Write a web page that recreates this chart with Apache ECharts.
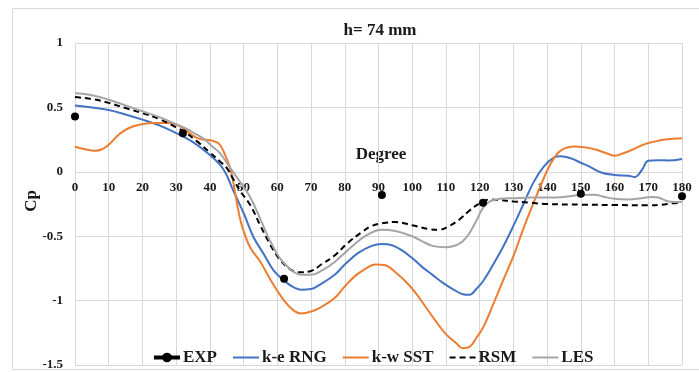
<!DOCTYPE html>
<html>
<head>
<meta charset="utf-8">
<script src="https://cdn.jsdelivr.net/npm/echarts@6/dist/echarts.min.js"></script>
<style>
html,body{margin:0;padding:0;background:#fff;}
#c{width:699px;height:372px;}
</style>
</head>
<body>
<div id="c"></div>
<script>
// ---- data ----
const expDeg = [0, 32, 62, 91, 121, 150, 180];
const expCp  = [0.43, 0.30, -0.83, -0.18, -0.24, -0.17, -0.19];

const rngDeg = [0,5,10,15,20,25,30,35,40,44,47,50,53,56,59,62,65,67,70,73,77,80,84,88,91,94,97,100,103,106,109,112,115,117,119,121,124,127,130,133,136,139,142,144,147,150,153,156,160,164,166,168,170,173,176,180];
const rngCp  = [0.515,0.50,0.48,0.445,0.405,0.36,0.30,0.23,0.13,0.02,-0.15,-0.32,-0.51,-0.64,-0.77,-0.845,-0.90,-0.915,-0.91,-0.87,-0.80,-0.72,-0.63,-0.575,-0.56,-0.57,-0.61,-0.67,-0.74,-0.80,-0.86,-0.91,-0.95,-0.955,-0.91,-0.85,-0.72,-0.58,-0.42,-0.25,-0.08,0.04,0.11,0.12,0.105,0.07,0.035,-0.005,-0.025,-0.03,-0.04,0.01,0.085,0.09,0.088,0.10];

const sstDeg = [0,3,6,8,10,13,16,19,23,28,31,34,36,38,41,43,45,46,47,48,49.5,52,55,58,62,65,67,70,73,77,80,83,86,89,92,95,98,101,104,107,110,113,115,117,119,121,124,127,130,133,136,139,141,143,145,148,151,154,157,160,163,166,169,172,175,180];
const sstCp  = [0.195,0.175,0.163,0.175,0.21,0.29,0.34,0.365,0.378,0.378,0.355,0.30,0.265,0.25,0.24,0.21,0.10,0.03,-0.09,-0.24,-0.42,-0.59,-0.70,-0.84,-1.00,-1.08,-1.10,-1.085,-1.05,-0.98,-0.89,-0.81,-0.755,-0.72,-0.725,-0.78,-0.85,-0.94,-1.05,-1.16,-1.26,-1.33,-1.37,-1.36,-1.29,-1.21,-1.03,-0.84,-0.655,-0.44,-0.24,-0.05,0.06,0.14,0.18,0.197,0.19,0.175,0.15,0.125,0.148,0.18,0.215,0.235,0.25,0.26];

const rsmDeg = [0,5,10,15,20,25,30,33,36,40,43,45,47,49,52,55,58,61,64,66,70,73,77,81,85,88,91,95,100,105,108,111,114,117,120,123,126,130,135,140,150,160,170,174,177,180];
const rsmCp  = [0.58,0.565,0.535,0.495,0.455,0.41,0.345,0.30,0.24,0.15,0.08,0.03,-0.06,-0.15,-0.26,-0.42,-0.57,-0.69,-0.76,-0.78,-0.77,-0.72,-0.65,-0.55,-0.47,-0.42,-0.40,-0.39,-0.415,-0.445,-0.45,-0.42,-0.37,-0.30,-0.245,-0.215,-0.22,-0.23,-0.24,-0.25,-0.255,-0.258,-0.26,-0.255,-0.245,-0.24];

const lesDeg = [0,5,10,15,20,25,30,33,36,38,41,43,46,49,52,55,57,60,62,65,67,70,73,77,80,83,86,89,91,95,100,103,106,110,113,115,117,119,121,123,126,130,135,140,145,150,154,157,160,164,168,171,173,176,180];
const lesCp  = [0.61,0.595,0.56,0.515,0.47,0.425,0.37,0.335,0.29,0.26,0.19,0.145,0.03,-0.08,-0.20,-0.37,-0.49,-0.64,-0.71,-0.78,-0.80,-0.80,-0.77,-0.70,-0.63,-0.56,-0.50,-0.46,-0.45,-0.46,-0.50,-0.54,-0.575,-0.585,-0.57,-0.54,-0.475,-0.38,-0.28,-0.23,-0.21,-0.205,-0.20,-0.20,-0.195,-0.18,-0.178,-0.195,-0.21,-0.215,-0.205,-0.195,-0.20,-0.23,-0.235];

const yTicks = [-1.5, -1, -0.5, 0, 0.5, 1];
const xTicks = [0,10,20,30,40,50,60,70,80,90,100,110,120,130,140,150,160,170,180];

const zip = (a, b) => a.map((v, i) => [v, b[i]]);

const FONT = '"Liberation Serif", "Times New Roman", serif';
const GRID = '#d9d9d9';
const GRID_TOP = 43, GRID_BOTTOM = 7, H = 372;
// pixel offset that moves the degree axis up to the Cp = 0 line
const plotH = H - GRID_TOP - GRID_BOTTOM;
const zeroOffset = -plotH * (0 - yTicks[0]) / (yTicks[yTicks.length - 1] - yTicks[0]);

const lineOnly = {itemStyle: {opacity: 0}};

const chart = echarts.init(document.getElementById('c'), null, {renderer: 'canvas'});
chart.setOption({
  animation: false,
  backgroundColor: '#fff',
  grid: {left: 75, right: 17, top: GRID_TOP, bottom: GRID_BOTTOM, containLabel: false},
  xAxis: {
    type: 'value', min: xTicks[0], max: xTicks[xTicks.length - 1], interval: 10,
    offset: zeroOffset,
    axisLine: {show: true, onZero: false, lineStyle: {color: GRID, width: 1}},
    axisTick: {show: false},
    splitLine: {show: true, lineStyle: {color: GRID, width: 1}},
    axisLabel: {color: '#1a1a1a', fontFamily: FONT, fontWeight: 'bold', fontSize: 13, margin: 9}
  },
  yAxis: {
    type: 'value', min: yTicks[0], max: yTicks[yTicks.length - 1], interval: 0.5,
    axisLine: {show: false},
    axisTick: {show: false},
    splitLine: {show: true, lineStyle: {color: GRID, width: 1}},
    axisLabel: {color: '#1a1a1a', fontFamily: FONT, fontWeight: 'bold', fontSize: 13, margin: 12}
  },
  legend: {
    left: 147, top: 344,
    itemWidth: 26, itemHeight: 12, itemGap: 15,
    textStyle: {fontFamily: FONT, fontWeight: 'bold', fontSize: 17, color: '#1a1a1a', padding: [0, 0, 0, -2]},
    data: [
      {name: 'EXP', itemStyle: {opacity: 1}, lineStyle: {opacity: 1, width: 4, color: '#000'}},
      Object.assign({name: 'k-e RNG'}, lineOnly),
      Object.assign({name: 'k-w SST'}, lineOnly),
      Object.assign({name: 'RSM'}, lineOnly),
      Object.assign({name: 'LES'}, lineOnly)
    ]
  },
  graphic: [
    {type: 'rect', silent: true, z: -10, shape: {x: 12.5, y: 8.5, width: 700, height: 361}, style: {fill: 'none', stroke: '#d9d9d9', lineWidth: 1}},
    {type: 'text', x: 380, y: 31, style: {text: 'h= 74 mm', font: 'bold 17px ' + FONT, fill: '#1a1a1a', textAlign: 'center', textVerticalAlign: 'middle'}},
    {type: 'text', x: 381, y: 155, style: {text: 'Degree', font: 'bold 17px ' + FONT, fill: '#1a1a1a', textAlign: 'center', textVerticalAlign: 'middle'}},
    {type: 'text', x: 32, y: 201, rotation: Math.PI / 2, style: {text: 'Cp', font: 'bold 17px ' + FONT, fill: '#1a1a1a', textAlign: 'center', textVerticalAlign: 'middle'}}
  ],
  series: [
    {name: 'EXP', type: 'line', data: zip(expDeg, expCp), symbol: 'circle', symbolSize: 8,
     itemStyle: {color: '#000'}, lineStyle: {opacity: 0, width: 4, color: '#000'}, z: 10},
    {name: 'k-e RNG', type: 'line', data: zip(rngDeg, rngCp), symbol: 'none', smooth: 0.4,
     itemStyle: {color: '#4472c4'}, lineStyle: {color: '#4472c4', width: 2}},
    {name: 'k-w SST', type: 'line', data: zip(sstDeg, sstCp), symbol: 'none', smooth: 0.4,
     itemStyle: {color: '#ed7d31'}, lineStyle: {color: '#ed7d31', width: 2}},
    {name: 'RSM', type: 'line', data: zip(rsmDeg, rsmCp), symbol: 'none', smooth: 0.4,
     itemStyle: {color: '#000'}, lineStyle: {color: '#000', width: 2, type: [6, 4]}},
    {name: 'LES', type: 'line', data: zip(lesDeg, lesCp), symbol: 'none', smooth: 0.4,
     itemStyle: {color: '#a5a5a5'}, lineStyle: {color: '#a5a5a5', width: 2}}
  ]
});
</script>
</body>
</html>
